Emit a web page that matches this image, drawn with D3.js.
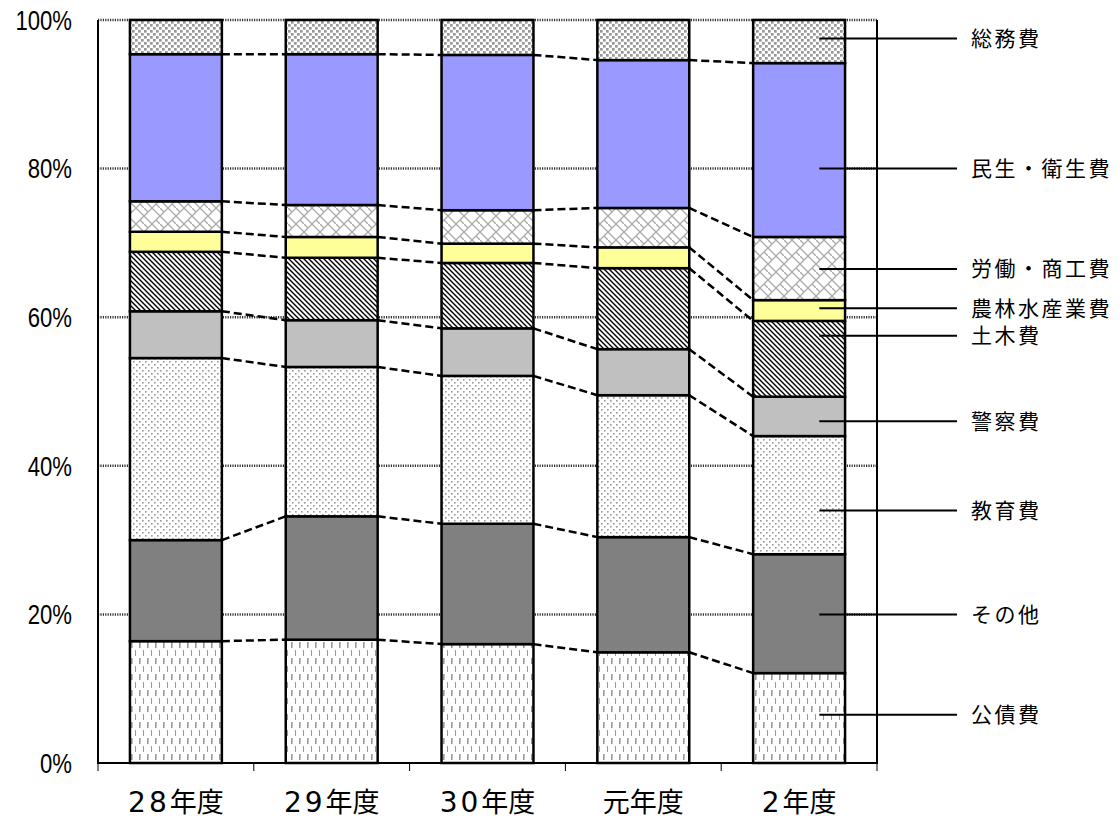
<!DOCTYPE html>
<html>
<head>
<meta charset="utf-8">
<script src="https://cdn.jsdelivr.net/npm/d3@7"></script>
<style>
  body { margin: 0; background: #fff; }
</style>
</head>
<body>
<svg id="chart" width="1120" height="821"></svg>
<script>
const years = ['28年度', '29年度', '30年度', '元年度', '2年度'];
const categories = ['公債費', 'その他', '教育費', '警察費', '土木費', '農林水産業費', '労働・商工費', '民生・衛生費', '総務費'];

// shares (%) per year, bottom to top
const kousai = [16.4, 16.6, 16.0, 14.9, 12.1];
const sonota = [13.6, 16.6, 16.2, 15.5, 16.0];
const kyouiku = [24.5, 20.1, 19.9, 19.1, 15.9];
const keisatsu = [6.3, 6.3, 6.4, 6.2, 5.3];
const doboku = [8.0, 8.4, 8.8, 10.9, 10.2];
const nourin = [2.7, 2.8, 2.6, 2.8, 2.8];
const roudou = [4.1, 4.3, 4.5, 5.3, 8.5];
const minsei = [19.8, 20.3, 20.9, 19.9, 23.4];
const soumu = [4.6, 4.6, 4.7, 5.4, 5.8];
const series = [kousai, sonota, kyouiku, keisatsu, doboku, nourin, roudou, minsei, soumu];

const yTicks = [0, 20, 40, 60, 80, 100];
// label y positions in % (where each leader line points)
const labelAt = [6.5, 20, 34, 46, 57.5, 61.2, 66.5, 80, 97.5];

const Plot = { left: 98, right: 877, top: 20, bottom: 763 };
const fills = ['url(#p-kousai)', '#808080', 'url(#p-kyouiku)', '#c0c0c0', 'url(#p-doboku)', '#ffff99', 'url(#p-roudou)', '#9999ff', 'url(#p-soumu)'];

const svg = d3.select('#chart');

const x = d3.scaleBand()
    .domain(years)
    .range([Plot.left, Plot.right])
    .paddingInner(0.41)
    .paddingOuter(0.205);
const y = d3.scaleLinear().domain([0, 100]).range([Plot.bottom, Plot.top]);

// patterns
const defs = svg.append('defs');
function pattern(id, w, h) {
    return defs.append('pattern')
        .attr('id', id)
        .attr('patternUnits', 'userSpaceOnUse')
        .attr('width', w)
        .attr('height', h);
}
let p = pattern('p-soumu', 6, 6);
p.append('rect').attr('width', 6).attr('height', 6).attr('fill', '#fff');
p.append('rect').attr('x', 0).attr('y', 0).attr('width', 2.7).attr('height', 2.7).attr('fill', '#999');
p.append('rect').attr('x', 3).attr('y', 3).attr('width', 2.7).attr('height', 2.7).attr('fill', '#999');

p = pattern('p-roudou', 16, 16);
p.append('rect').attr('width', 16).attr('height', 16).attr('fill', '#fff');
p.append('path').attr('d', 'M0,8L8,0L16,8L8,16Z M0,0L4,4 M16,16L12,12')
    .attr('fill', 'none').attr('stroke', '#aaa').attr('stroke-width', 1.3);

p = pattern('p-doboku', 5, 5);
p.append('rect').attr('width', 5).attr('height', 5).attr('fill', '#fff');
p.append('path').attr('d', 'M-1,-1L6,6 M-1,4L1,6 M4,-1L6,1')
    .attr('stroke', '#000').attr('stroke-width', 1.4);

p = pattern('p-kyouiku', 6, 6);
p.append('rect').attr('width', 6).attr('height', 6).attr('fill', '#fff');
p.append('rect').attr('x', 1).attr('y', 1).attr('width', 1.6).attr('height', 1.6).attr('fill', '#999');
p.append('rect').attr('x', 4).attr('y', 4).attr('width', 1.6).attr('height', 1.6).attr('fill', '#999');

p = pattern('p-kousai', 8, 16);
p.append('rect').attr('width', 8).attr('height', 16).attr('fill', '#fff');
p.append('rect').attr('x', 3).attr('y', 2).attr('width', 1.6).attr('height', 6).attr('fill', '#999');
p.append('rect').attr('x', 7).attr('y', 10).attr('width', 1.6).attr('height', 6).attr('fill', '#999');

// gridlines
svg.append('g')
    .selectAll('line')
    .data(yTicks.filter(t => t > 0))
    .join('line')
    .attr('x1', Plot.left)
    .attr('x2', Plot.right)
    .attr('y1', d => y(d))
    .attr('y2', d => y(d))
    .attr('stroke', '#333')
    .attr('stroke-width', 2.5)
    .attr('stroke-dasharray', '1.2,1.2');

// plot frame
svg.append('path')
    .attr('d', `M${Plot.left},${Plot.top}V${Plot.bottom}H${Plot.right}V${Plot.top}`)
    .attr('fill', 'none')
    .attr('stroke', '#000')
    .attr('stroke-width', 2);

// stacking
const rows = years.map((yr, i) => {
    const r = { year: yr };
    categories.forEach((c, j) => { r[c] = series[j][i]; });
    return r;
});
const stacked = d3.stack().keys(categories)(rows);

// connectors
const conn = svg.append('g')
    .attr('stroke', '#000')
    .attr('stroke-width', 2.5)
    .attr('stroke-dasharray', '8,4');
stacked.slice(0, -1).forEach(layer => {
    for (let i = 0; i < years.length - 1; i++) {
        conn.append('line')
            .attr('x1', x(years[i]) + x.bandwidth())
            .attr('y1', y(layer[i][1]))
            .attr('x2', x(years[i + 1]))
            .attr('y2', y(layer[i + 1][1]));
    }
});

// bars
svg.append('g')
    .selectAll('g')
    .data(stacked)
    .join('g')
    .attr('fill', (d, i) => fills[i])
    .selectAll('rect')
    .data(d => d)
    .join('rect')
    .attr('x', d => x(d.data.year))
    .attr('width', x.bandwidth())
    .attr('y', d => y(d[1]))
    .attr('height', d => y(d[0]) - y(d[1]))
    .attr('stroke', '#000')
    .attr('stroke-width', 2.5);

// y axis labels (narrow sans)
svg.append('g')
    .selectAll('text')
    .data(yTicks)
    .join('text')
    .attr('transform', d => `translate(72,${y(d)}) scale(0.82,1)`)
    .attr('dy', '0.36em')
    .attr('text-anchor', 'end')
    .attr('font-family', 'Liberation Sans, Arial, sans-serif')
    .attr('font-size', 27)
    .text(d => `${d}%`);

// x ticks
const bounds = years.map(yr => x(yr) - x.step() * 0.205).concat([Plot.right]);
svg.append('g')
    .selectAll('line')
    .data(bounds)
    .join('line')
    .attr('x1', d => d)
    .attr('x2', d => d)
    .attr('y1', Plot.bottom)
    .attr('y2', Plot.bottom + 8)
    .attr('stroke', '#000')
    .attr('stroke-width', 1);

// x labels
svg.append('g')
    .selectAll('text')
    .data(years)
    .join('text')
    .attr('x', d => x(d) + x.bandwidth() / 2)
    .attr('y', 812)
    .attr('text-anchor', 'middle')
    .attr('font-family', 'Noto Sans CJK JP, sans-serif')
    .attr('font-size', 27)
    .each(function (d) {
        const m = d.match(/^(\d*)(.*)$/);
        const t = d3.select(this);
        if (m[1]) {
            t.append('tspan')
                .attr('font-family', 'DejaVu Sans, sans-serif')
                .attr('font-size', 28)
                .attr('letter-spacing', 3)
                .text(m[1]);
        }
        t.append('tspan').text(m[2]);
    });

// legend leader lines
const lastYear = years[years.length - 1];
const legend = svg.append('g');
legend.selectAll('line')
    .data(categories)
    .join('line')
    .attr('x1', x(lastYear) + x.bandwidth() * 0.72)
    .attr('x2', 957)
    .attr('y1', (d, i) => y(labelAt[i]))
    .attr('y2', (d, i) => y(labelAt[i]))
    .attr('stroke', '#000')
    .attr('stroke-width', 2);
legend.selectAll('text')
    .data(categories)
    .join('text')
    .attr('x', 971)
    .attr('y', (d, i) => y(labelAt[i]))
    .attr('dy', '0.36em')
    .attr('font-family', 'Noto Sans CJK JP, sans-serif')
    .attr('font-size', 21)
    .attr('letter-spacing', 2.5)
    .text(d => d);
</script>
</body>
</html>
